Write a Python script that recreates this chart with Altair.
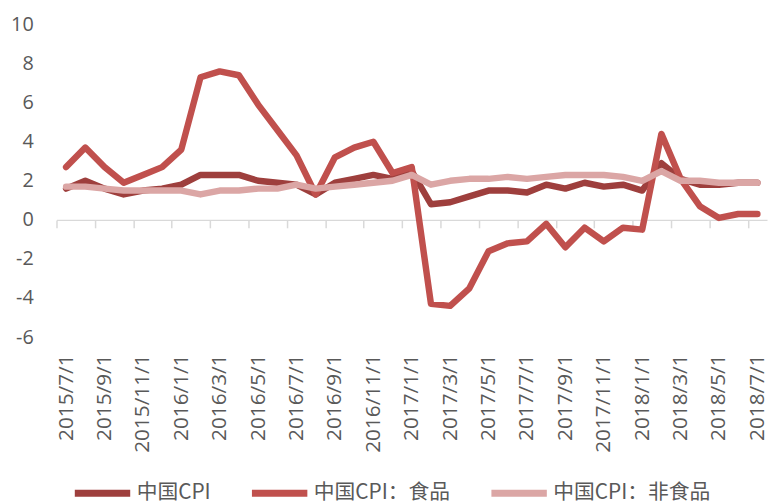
import altair as alt
import pandas as pd

months = [
    "2015/7/1", "2015/8/1", "2015/9/1", "2015/10/1", "2015/11/1", "2015/12/1",
    "2016/1/1", "2016/2/1", "2016/3/1", "2016/4/1", "2016/5/1", "2016/6/1",
    "2016/7/1", "2016/8/1", "2016/9/1", "2016/10/1", "2016/11/1", "2016/12/1",
    "2017/1/1", "2017/2/1", "2017/3/1", "2017/4/1", "2017/5/1", "2017/6/1",
    "2017/7/1", "2017/8/1", "2017/9/1", "2017/10/1", "2017/11/1", "2017/12/1",
    "2018/1/1", "2018/2/1", "2018/3/1", "2018/4/1", "2018/5/1", "2018/6/1",
    "2018/7/1",
]
cpi = [1.6, 2.0, 1.6, 1.3, 1.5, 1.6, 1.8, 2.3, 2.3, 2.3, 2.0, 1.9, 1.8, 1.3,
       1.9, 2.1, 2.3, 2.1, 2.5, 0.8, 0.9, 1.2, 1.5, 1.5, 1.4, 1.8, 1.6, 1.9,
       1.7, 1.8, 1.5, 2.9, 2.1, 1.8, 1.8, 1.9, 1.9]
food = [2.7, 3.7, 2.7, 1.9, 2.3, 2.7, 3.6, 7.3, 7.6, 7.4, 5.9, 4.6, 3.3, 1.3,
        3.2, 3.7, 4.0, 2.4, 2.7, -4.3, -4.4, -3.5, -1.6, -1.2, -1.1, -0.2,
        -1.4, -0.4, -1.1, -0.4, -0.5, 4.4, 2.1, 0.7, 0.1, 0.3, 0.3]
nonfood = [1.7, 1.7, 1.6, 1.5, 1.5, 1.5, 1.5, 1.3, 1.5, 1.5, 1.6, 1.6, 1.8,
           1.6, 1.7, 1.8, 1.9, 2.0, 2.3, 1.8, 2.0, 2.1, 2.1, 2.2, 2.1, 2.2,
           2.3, 2.3, 2.3, 2.2, 2.0, 2.5, 2.0, 2.0, 1.9, 1.9, 1.9]
series_names = ["中国CPI", "中国CPI：食品", "中国CPI：非食品"]
colors = ["#9E3F3D", "#C0504D", "#DBA6A5"]
y_ticks = [-6, -4, -2, 0, 2, 4, 6, 8, 10]

rows = []
for name, vals in zip(series_names, [cpi, food, nonfood]):
    for i, (m, v) in enumerate(zip(months, vals)):
        rows.append({"idx": i, "month": m, "series": name, "value": v})
df = pd.DataFrame(rows)

W, H = 718, 316
n = len(months)
step = W / n
ymin, ymax = y_ticks[0], y_ticks[-1]
zero_offset = -(H * (0 - ymin) / (ymax - ymin))
label_values = list(range(0, n, 2))
label_expr = "[" + ",".join("'%s'" % m for m in months) + "][datum.value]"

text_color = "#595959"
axis_color = "#D9D9D9"
font = "Open Sans"

x_enc = alt.X(
    "idx:Q",
    scale=alt.Scale(domain=[-0.5, n - 0.5], nice=False, zero=False),
    axis=alt.Axis(
        values=label_values, labelExpr=label_expr, title=None, grid=False,
        labelAngle=270, labelAlign="right", labelBaseline="middle",
        offset=zero_offset, tickSize=8, tickOffset=-step / 2,
        labelOffset=step / 2, labelPadding=-zero_offset + 9,
        domainColor=axis_color, domainWidth=1.5, tickColor=axis_color,
        tickWidth=1.5, labelFontSize=21, labelFont=font,
        labelColor=text_color, labelFlush=False, labelOverlap=False,
    ),
)
y_enc = alt.Y(
    "value:Q",
    scale=alt.Scale(domain=[ymin, ymax], nice=False, zero=False),
    axis=alt.Axis(
        values=y_ticks, title=None, grid=False, domain=False, ticks=False,
        labelExpr="'' + datum.value",
        labelPadding=23.5, labelFontSize=20, labelFont=font,
        labelColor=text_color,
    ),
)
color_enc = alt.Color(
    "series:N",
    scale=alt.Scale(domain=series_names, range=colors),
    legend=alt.Legend(
        title=None, orient="none", legendX=15, legendY=442,
        direction="horizontal", symbolType="stroke", symbolSize=3136,
        symbolStrokeWidth=7, labelFontSize=21, labelFont="Noto Sans CJK SC",
        labelColor=text_color, columnPadding=27, labelOffset=3, padding=0,
        labelLimit=400,
    ),
)

base = alt.Chart(df)
layers = [
    base.transform_filter(alt.datum.series == name)
    .mark_line(strokeWidth=6.5, strokeCap="round", strokeJoin="round")
    .encode(x=x_enc, y=y_enc, color=color_enc)
    for name in series_names
]

chart = (
    alt.layer(*layers)
    .properties(
        width=W, height=H, background="white",
        padding={"left": 49, "top": 14, "right": 1, "bottom": 166},
        autosize=alt.AutoSizeParams(type="none"),
    )
    .configure_view(strokeWidth=0, stroke="transparent")
    .configure_axisY(domain=False, grid=False)
)

chart.save("out.html", embed_options={"renderer": "svg", "actions": False})
